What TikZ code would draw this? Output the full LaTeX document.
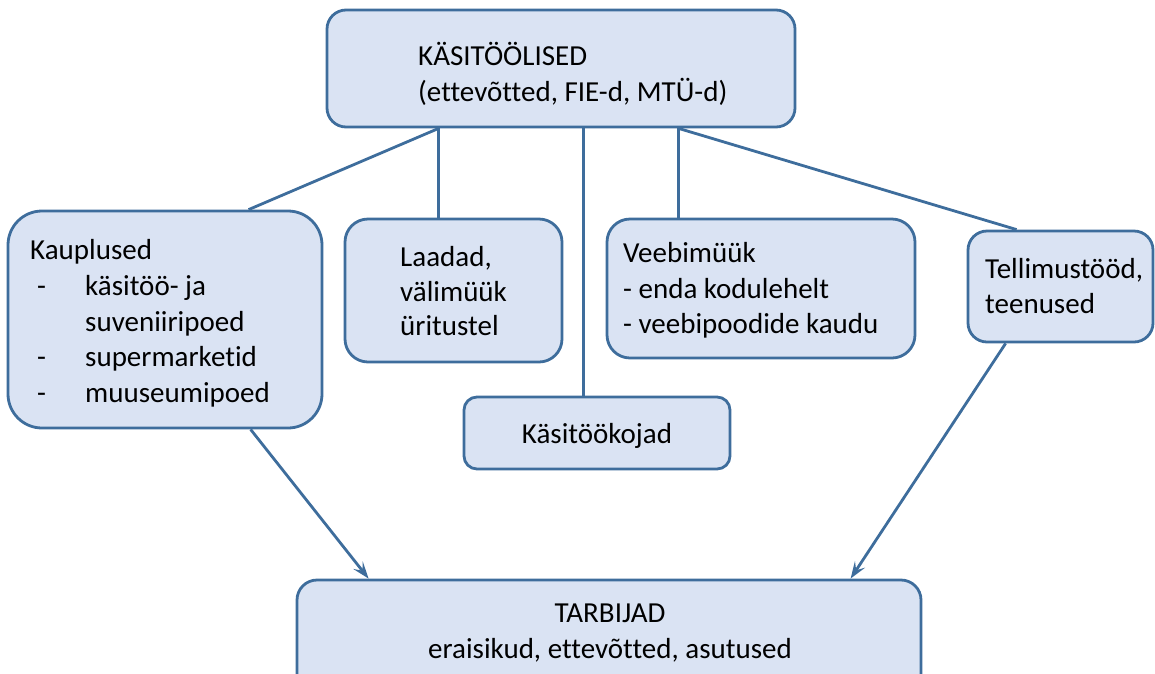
\documentclass[tikz,border=0pt]{standalone}
\usepackage{fontspec}
\setmainfont{Carlito}[Ligatures=NoCommon]
\usetikzlibrary{arrows.meta}
\definecolor{boxfill}{HTML}{DAE3F3}
\definecolor{boxline}{HTML}{3E6D9C}
\begin{document}
\begin{tikzpicture}[x=1pt,y=-1pt,
  box/.style={draw=boxline, fill=boxfill, line width=2.8pt, inner sep=0pt, rectangle},
  conn/.style={draw=boxline, line width=2.8pt},
  arr/.style={conn, -{Stealth[length=17pt,width=12pt,inset=7pt]}},
  txt/.style={inner sep=0pt, font=\fontsize{29pt}{35pt}\selectfont, text=black}]
\useasboundingbox (0,0) rectangle (1155,673);
% boxes
\node[box, minimum width=468pt, minimum height=117pt, rounded corners=19pt] (kas) at (561,68.5) {};
\node[box, minimum width=314pt, minimum height=217pt, rounded corners=34pt] (kaup) at (165,319.5) {};
\node[box, minimum width=217pt, minimum height=143pt, rounded corners=23pt] (lad) at (453.5,290.5) {};
\node[box, minimum width=308pt, minimum height=139pt, rounded corners=23pt] (veeb) at (761,288.5) {};
\node[box, minimum width=185pt, minimum height=111pt, rounded corners=19pt] (tell) at (1060.5,286.5) {};
\node[box, minimum width=266pt, minimum height=72pt, rounded corners=13pt] (koj) at (597,433) {};
\node[box, minimum width=624pt, minimum height=120pt, rounded corners=20pt] (tarb) at (609,640) {};
% connectors
\draw[conn] ([xshift=113pt]kas.south west) -- ([xshift=242pt]kaup.north west);
\draw[conn] ([xshift=113pt]kas.south west) -- ([xshift=95pt]lad.north west);
\draw[conn] ([xshift=258pt]kas.south west) -- ([xshift=121pt]koj.north west);
\draw[conn] ([xshift=353pt]kas.south west) -- ([xshift=73pt]veeb.north west);
\draw[conn] ([xshift=353pt]kas.south west) -- ([xshift=50pt]tell.north west);
\draw[arr] ([xshift=244pt]kaup.south west) -- ([xshift=73pt]tarb.north west);
\draw[arr] ([xshift=39pt]tell.south west) -- ([xshift=555pt]tarb.north west);
% texts
\node[txt, anchor=base west] (kas1) at (418,65) {KÄSITÖÖLISED};
\node[txt, anchor=base west] (kas2) at (418,101) {(ettevõtted, FIE-d, MTÜ-d)};
\node[txt, anchor=base west] (kaup1) at (30,259) {Kauplused};
\node[txt, anchor=base west] (kaupd1) at (37,295) {-};
\node[txt, anchor=base west] (kaup2) at (85,295) {käsitöö- ja};
\node[txt, anchor=base west] (kaup3) at (85,331) {suveniiripoed};
\node[txt, anchor=base west] (kaupd2) at (37,366) {-};
\node[txt, anchor=base west] (kaup4) at (85,366) {supermarketid};
\node[txt, anchor=base west] (kaupd3) at (37,402) {-};
\node[txt, anchor=base west] (kaup5) at (85,402) {muuseumipoed};
\node[txt, anchor=base west] (lad1) at (400,266) {Laadad,};
\node[txt, anchor=base west] (lad2) at (400,301) {välimüük};
\node[txt, anchor=base west] (lad3) at (400,335) {üritustel};
\node[txt, anchor=base west] (veeb1) at (623,262) {Veebimüük};
\node[txt, anchor=base west] (veeb2) at (623,298) {- enda kodulehelt};
\node[txt, anchor=base west] (veeb3) at (623,333) {- veebipoodide kaudu};
\node[txt, anchor=base west] (tell1) at (985,278) {Tellimustööd,};
\node[txt, anchor=base west] (tell2) at (985,313) {teenused};
\node[txt, anchor=base] (koj1) at (597,443) {Käsitöökojad};
\node[txt, anchor=base] (tarb1) at (610,622) {TARBIJAD};
\node[txt, anchor=base] (tarb2) at (610,658) {eraisikud, ettevõtted, asutused};
\end{tikzpicture}
\end{document}
